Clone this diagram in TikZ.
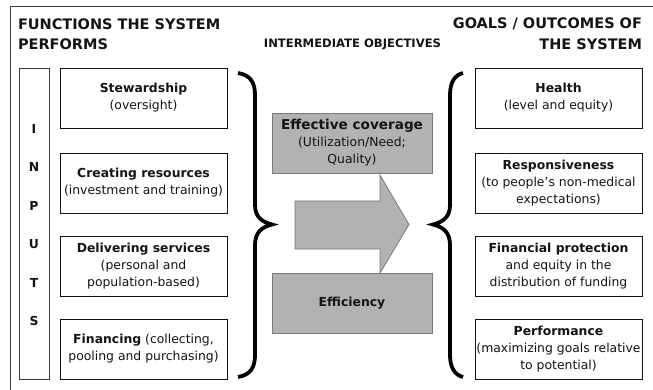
\documentclass[tikz,border=0pt]{standalone}
\usepackage{fontspec}
\setmainfont{DejaVu Sans}
\definecolor{boxgray}{RGB}{178,178,178}
\definecolor{graybd}{RGB}{120,120,120}
\definecolor{ink}{RGB}{20,20,20}
\definecolor{framec}{RGB}{60,60,60}
\begin{document}
\begin{tikzpicture}[x=1pt,y=-1pt,
  every node/.style={text=ink, inner sep=0pt, outer sep=0pt},
  fbox/.style={draw=ink, line width=0.9pt, fill=white, minimum width=167pt, minimum height=60pt,
    align=center, font=\fontsize{12.4}{17}\selectfont},
  gbox/.style={draw=graybd, line width=0.9pt, fill=boxgray, minimum width=160pt, minimum height=60pt,
    align=center, font=\fontsize{12.4}{17}\selectfont},
  inbox/.style={draw=framec, line width=0.8pt, fill=white, minimum width=30pt, minimum height=311pt},
  letter/.style={font=\fontsize{12.4}{15}\selectfont\bfseries},
  title/.style={font=\fontsize{14.5}{20}\selectfont\bfseries},
  brace/.style={line width=3.8pt, black}
]
\useasboundingbox (0,0) rectangle (653,390);
\draw[framec, line width=0.9pt] (10,390) -- (10,6) -- (653,6);

% titles
\node[title, anchor=west] (t1a) at (18,24) {FUNCTIONS THE SYSTEM};
\node[title, anchor=west] (t1b) at (18,44) {PERFORMS};
\node[font=\fontsize{11.6}{14}\selectfont\bfseries] (t2) at (352.5,44) {INTERMEDIATE OBJECTIVES};
\node[title, anchor=east] (t3a) at (642,24) {GOALS / OUTCOMES OF};
\node[title, anchor=east] (t3b) at (642,44) {THE SYSTEM};

% inputs column
\node[inbox] (inputs) at (34,223.5) {};
\foreach \l/\y [count=\i] in {I/129,N/167,P/206,U/244,T/283,S/321}
  \node[letter] (in\i) at (34,\y) {\l};

% left boxes
\node[fbox] (stew) at (143.5,98) {\textbf{Stewardship}\\(oversight)};
\node[fbox] (creat) at (143.5,183) {\textbf{Creating resources}\\(investment and training)};
\node[fbox] (deliv) at (143.5,266) {\textbf{Delivering services}\\(personal and\\population-based)};
\node[fbox] (finan) at (143.5,349) {\textbf{Financing} (collecting,\\pooling and purchasing)};

% right boxes
\node[fbox] (health) at (558.5,98) {\textbf{Health}\\(level and equity)};
\node[fbox] (resp) at (558.5,183) {\textbf{Responsiveness}\\(to people’s non-medical\\expectations)};
\node[fbox] (finprot) at (558.5,266) {\textbf{Financial protection}\\and equity in the\\distribution of funding};
\node[fbox] (perf) at (558.5,349) {\textbf{Performance}\\(maximizing goals relative\\to potential)};

% middle
\node[gbox] (effcov) at (352,143) {{\fontsize{13.6}{19}\selectfont\bfseries Effective coverage}\\(Utilization/Need;\\Quality)};
\node[gbox] (effic) at (352,303) {\textbf{Efficiency}};
\draw[graybd, line width=0.8pt, fill=boxgray]
  (295,201) -- (380,201) -- (380,175) -- (409,224.5) -- (380,273) -- (380,249) -- (295,249) -- cycle;

% braces
\draw[brace] (238,73) .. controls (250,75) and (255,82) .. (255,95) -- (255,205)
  .. controls (255,217) and (262,222) .. (272,224.5)
  .. controls (262,227) and (255,232) .. (255,245) -- (255,355)
  .. controls (255,368) and (250,375) .. (238,377);
\draw[brace] (463,73) .. controls (455,75) and (450,82) .. (450,95) -- (450,205)
  .. controls (450,217) and (443,222) .. (433,224.5)
  .. controls (443,227) and (450,232) .. (450,245) -- (450,355)
  .. controls (450,368) and (455,375) .. (463,377);
\end{tikzpicture}
\end{document}
